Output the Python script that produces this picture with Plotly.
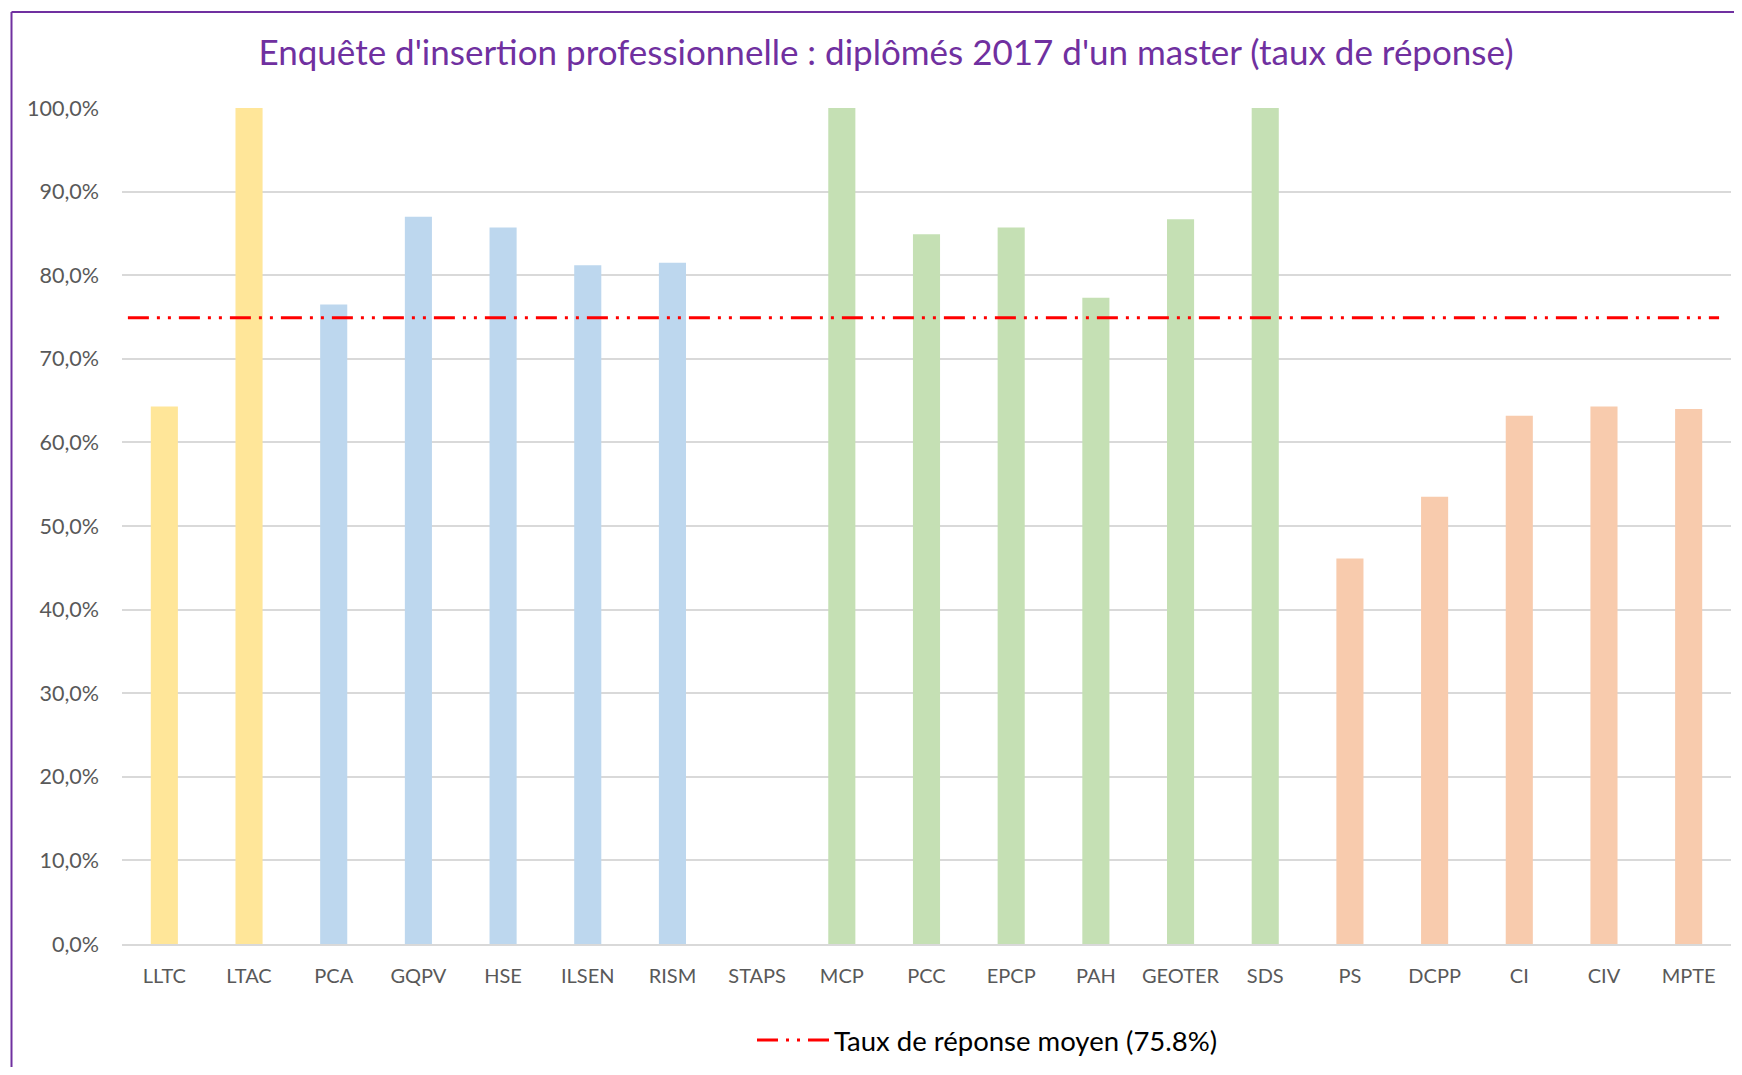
import plotly.graph_objects as go

# ---- data ----
categories = ["LLTC", "LTAC", "PCA", "GQPV", "HSE", "ILSEN", "RISM", "STAPS",
              "MCP", "PCC", "EPCP", "PAH", "GEOTER", "SDS",
              "PS", "DCPP", "CI", "CIV", "MPTE"]
response_rate = [64.3, 100.0, 76.5, 87.0, 85.7, 81.2, 81.5, None,
                 100.0, 84.9, 85.7, 77.3, 86.7, 100.0,
                 46.1, 53.5, 63.2, 64.3, 64.0]
groups = ["A", "A", "B", "B", "B", "B", "B", "B",
          "C", "C", "C", "C", "C", "C",
          "D", "D", "D", "D", "D"]
group_colors = {"A": "#FFE699", "B": "#BDD7EE", "C": "#C5E0B4", "D": "#F8CBAD"}
mean_line_value = 74.9
mean_label = "Taux de réponse moyen (75.8%)"
y_ticks = [0, 10, 20, 30, 40, 50, 60, 70, 80, 90, 100]
y_ticktext = [f"{v:.1f}".replace(".", ",") + "%" for v in y_ticks]

# page has an 8px body margin; size the figure to fit inside the window
OFF = 8
W, H = 1742 - 2 * OFF, 1075 - 2 * OFF
ML, MR, MT, MB = 114, 3, 100, 123
PW = W - ML - MR
PH = H - MT - MB
FONT = "Lato, Open Sans, sans-serif"


def px_x(p):  # page pixel -> paper x
    return (p - OFF - ML) / PW


def px_y(p):  # page pixel -> paper y
    return (H - MB - (p - OFF)) / PH


fig = go.Figure()
fig.add_trace(go.Bar(
    x=categories, y=response_rate,
    marker=dict(color=[group_colors[g] for g in groups], line=dict(width=0)),
    showlegend=False, hoverinfo="x+y",
))
fig.add_trace(go.Scatter(
    x=[0, 1], y=[mean_line_value, mean_line_value],
    xaxis="x2", mode="lines", name=mean_label,
    line=dict(color="#FF0000", width=3, dash="21px,8px,3px,8px,3px,8px"),
))

fig.update_layout(
    width=W, height=H,
    margin=dict(l=ML, r=MR, t=MT, b=MB, pad=0),
    paper_bgcolor="white", plot_bgcolor="white",
    bargap=0.68,
    font=dict(family=FONT, size=20, color="#595959"),
    title=dict(
        text="Enquête d'insertion professionnelle : diplômés 2017 d'un master (taux de réponse)",
        font=dict(family=FONT, size=35, color="#7030A0"),
        x=(886 - OFF) / W, xanchor="center", xref="container",
        y=1 - (53 - OFF) / H, yanchor="middle", yref="container",
    ),
    xaxis=dict(
        type="category", showgrid=False, showline=True, linecolor="#D9D9D9",
        linewidth=2, ticks="", tickfont=dict(family=FONT, size=20, color="#595959"),
        ticklabelstandoff=13, zeroline=False,
    ),
    xaxis2=dict(
        overlaying="x", range=[-0.0037, 1.0075], visible=False,
    ),
    yaxis=dict(
        range=[0, 100], tickvals=y_ticks, ticktext=y_ticktext,
        showgrid=True, gridcolor="#D9D9D9", gridwidth=2,
        showline=False, zeroline=False, ticks="",
        tickfont=dict(family=FONT, size=21.5, color="#595959"),
        ticklabelstandoff=22,
    ),
    legend=dict(
        orientation="h", x=px_x(752), xanchor="left",
        y=px_y(1040), yanchor="middle",
        font=dict(family=FONT, size=27.5, color="#000000"),
        bgcolor="rgba(0,0,0,0)",
        itemwidth=72,
    ),
    shapes=[
        dict(type="line", xref="paper", yref="paper",
             x0=px_x(11.5), x1=px_x(1760), y0=px_y(12), y1=px_y(12),
             line=dict(color="#7030A0", width=2)),
        dict(type="line", xref="paper", yref="paper",
             x0=px_x(11.5), x1=px_x(11.5), y0=px_y(12), y1=px_y(1090),
             line=dict(color="#7030A0", width=2)),
    ],
)

fig.write_html("out.html")
